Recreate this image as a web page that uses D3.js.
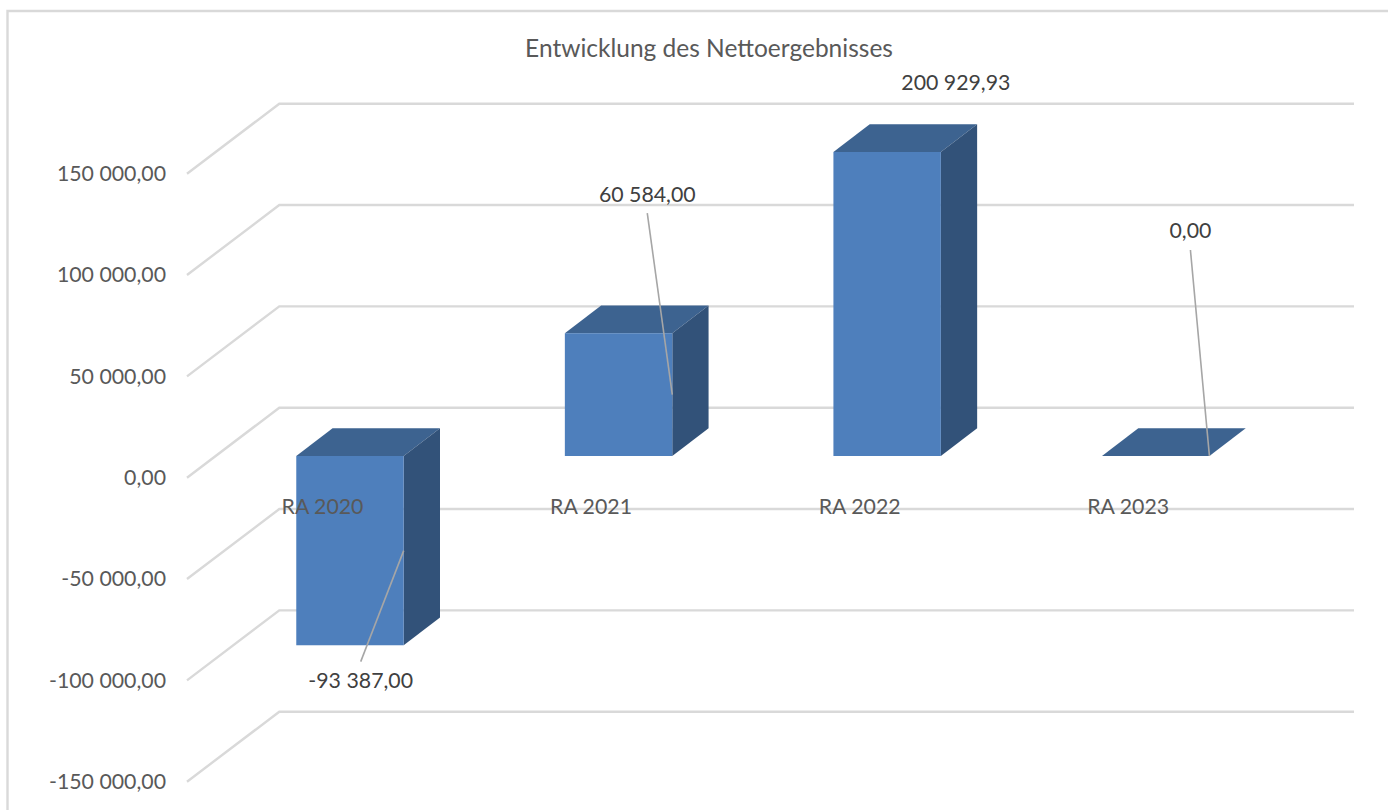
<!DOCTYPE html>
<html>
<head>
<meta charset="utf-8">
<script src="https://cdn.jsdelivr.net/npm/d3@7"></script>
<style>
  body { margin: 0; background: #fff; }
  text { font-family: Lato, "Open Sans", sans-serif; }
  .tick-label text, .cat-axis text { font-size: 21.3px; fill: #595959; }
  .data-label { font-size: 21.3px; fill: #404040; text-anchor: middle; }
  .title { font-size: 24.5px; fill: #595959; text-anchor: middle; }
</style>
</head>
<body>
<svg id="chart" width="1388" height="810"></svg>
<script>
const title = 'Entwicklung des Nettoergebnisses';
const categories = ['RA 2020', 'RA 2021', 'RA 2022', 'RA 2023'];
const values = [-93387, 60584, 200929.93, 0];
const yTicks = [-150000, -100000, -50000, 0, 50000, 100000, 150000];

// hand placed data labels in the original, relative to the leader anchor
const labelDx = [-43, -25, 15, -19];
const labelDy = [130, -200.5, -221, -225];
const hasLeader = [true, true, false, true];

const svg = d3.select('#chart');

const deLocale = d3.formatLocale({
  decimal: ',',
  thousands: ' ',
  grouping: [3],
  currency: ['', ' €'],
  minus: '-'
});
const fmt = deLocale.format(',.2f');

// the fake 3d box: back wall, front of the floor, and the bar plane in between
const wallLeft = 279.3, wallRight = 1354;
const floorDx = -92.3, floorDy = 70;
const barFrontDy = 48.3, barDepthX = 36.3, barDepthY = -27.7;

const y = d3.scaleLinear()
  .domain([-150000, 150000])
  .range([711.7, 103.7])
  .clamp(true);

const x = d3.scaleBand()
  .domain(categories)
  .range([215.7, 1290])
  .paddingInner(0.6)
  .paddingOuter(0.3);

// outer frame, cut by the screenshot at right and bottom
svg.append('path')
  .attr('d', 'M7.5,810V11H1388')
  .attr('fill', 'none')
  .attr('stroke', '#d9d9d9')
  .attr('stroke-width', 2.4);

svg.append('text')
  .attr('class', 'title')
  .attr('x', 709)
  .attr('y', 57)
  .text(title);

// grid on the back wall plus the diagonal going to the front
const gridG = svg.append('g')
  .attr('fill', 'none')
  .attr('stroke', '#d9d9d9')
  .attr('stroke-width', 2.4);

gridG.selectAll('path')
  .data(yTicks)
  .enter()
  .append('path')
  .attr('d', d => `M${wallLeft + floorDx},${y(d) + floorDy}L${wallLeft},${y(d)}H${wallRight}`);

const yAxis = d3.axisLeft(y)
  .tickValues(yTicks)
  .tickFormat(fmt)
  .tickSize(0)
  .tickPadding(21);

const yAxisG = svg.append('g')
  .attr('class', 'tick-label')
  .attr('transform', `translate(${wallLeft + floorDx},${floorDy})`)
  .call(yAxis);
yAxisG.select('.domain').remove();

// bars
const barTop = d => y(Math.max(d, 0)) + barFrontDy;
const barBottom = d => y(Math.min(d, 0)) + barFrontDy;
const w = x.bandwidth();

const bars = svg.append('g')
  .selectAll('g')
  .data(values)
  .enter()
  .append('g');

bars.append('polygon')
  .attr('fill', '#3d6390')
  .attr('points', (d, i) => {
    const x0 = x(categories[i]), t = barTop(d);
    return [[x0, t], [x0 + w, t], [x0 + w + barDepthX, t + barDepthY], [x0 + barDepthX, t + barDepthY]].join(' ');
  });

bars.append('polygon')
  .attr('fill', '#325279')
  .attr('points', (d, i) => {
    const x1 = x(categories[i]) + w, t = barTop(d), b = barBottom(d);
    return [[x1, t], [x1 + barDepthX, t + barDepthY], [x1 + barDepthX, b + barDepthY], [x1, b]].join(' ');
  });

bars.append('rect')
  .attr('fill', '#4e7fbc')
  .attr('x', (d, i) => x(categories[i]))
  .attr('y', d => barTop(d))
  .attr('width', w)
  .attr('height', d => barBottom(d) - barTop(d));

// category labels sit on the zero line of the front plane and overlap the bars
const xAxis = d3.axisBottom(x)
  .tickSize(0)
  .tickPadding(0);

const xAxisG = svg.append('g')
  .attr('class', 'cat-axis')
  .attr('transform', `translate(-27.5,${y(0) + 91})`)
  .call(xAxis);
xAxisG.select('.domain').remove();

// leaders and data labels
const anchorX = i => x(categories[i]) + w;
const anchorY = d => (barTop(d) + barBottom(d)) / 2;

svg.append('g')
  .selectAll('line')
  .data(values)
  .enter()
  .filter((d, i) => hasLeader[i])
  .append('line')
  .attr('stroke', '#a6a6a6')
  .attr('stroke-width', 1.6)
  .attr('x1', d => anchorX(values.indexOf(d)))
  .attr('y1', d => anchorY(d))
  .attr('x2', d => anchorX(values.indexOf(d)) + labelDx[values.indexOf(d)])
  .attr('y2', d => {
    const dy = labelDy[values.indexOf(d)];
    return anchorY(d) + dy - Math.sign(dy) * 19;
  });

svg.append('g')
  .selectAll('text')
  .data(values)
  .enter()
  .append('text')
  .attr('class', 'data-label')
  .attr('x', (d, i) => anchorX(i) + labelDx[i])
  .attr('y', (d, i) => anchorY(d) + labelDy[i])
  .attr('dy', '0.35em')
  .text(d => fmt(d));
</script>
</body>
</html>
